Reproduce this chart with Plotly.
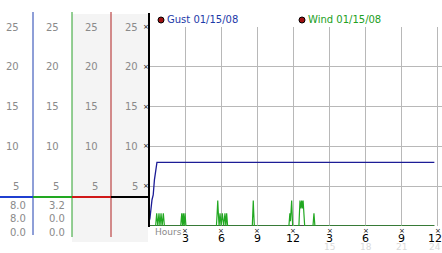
import plotly.graph_objects as go

# ---------------- data ----------------
gust_hours = [0.0, 0.08, 0.25, 0.35, 0.45, 0.66, 23.7]
gust_mph = [0.5, 1.0, 3.3, 3.9, 5.8, 8.0, 8.0]

wind_hours = [0.0, 0.55, 0.64, 0.73, 0.83, 0.91, 1.0, 1.09, 1.19, 1.28,
              2.63, 2.72, 2.79, 2.85, 2.92, 2.99, 3.07,
              5.6, 5.66, 5.71, 5.76, 5.82, 5.9, 5.99, 6.09, 6.2, 6.31, 6.38, 6.45, 6.53,
              8.58, 8.62, 8.66, 8.7, 8.75,
              11.62, 11.7, 11.75, 11.85, 11.93,
              12.45, 12.54, 12.61, 12.68, 12.74, 12.8, 12.87, 12.93,
              13.62, 13.7, 13.78, 23.7]
wind_mph = [0, 0, 1.6, 0, 1.6, 0, 1.6, 0, 1.6, 0,
            0, 1.6, 0, 1.6, 0, 1.6, 0,
            0, 1.6, 3.2, 1.6, 0, 1.6, 0, 1.6, 0, 1.6, 0, 1.6, 0,
            0, 1.6, 3.2, 1.6, 0,
            0, 1.6, 0.6, 3.2, 0,
            0, 3.2, 2.2, 3.2, 2.2, 3.2, 1.2, 0,
            0, 1.6, 0, 0]

y_ticks = [5, 10, 15, 20, 25]
x_ticks = [3, 6, 9, 12, 15, 18, 21, 24]
x_tick_text = ["3", "6", "9", "12", "3", "6", "9", "12"]
x_faint_ticks = [15, 18, 21, 24]
x_faint_text = ["15", "18", "21", "24"]

panel_rows = ["8.0", "8.0", "0.0"]       # column 1 readings
panel_rows2 = ["3.2", "0.0", "0.0"]      # column 2 readings

legend_names = ["Gust 01/15/08", "Wind 01/15/08"]

# ---------------- layout helpers ----------------
W, H = 442, 253
def px(x):
    return x / W
def py(y):
    return 1 - y / H

FONT = "DejaVu Sans"
GRAY = "#8a8a8a"
BLUE = "#1c1c96"
GREEN = "#22a822"

fig = go.Figure()
fig.add_trace(go.Scatter(x=wind_hours, y=wind_mph, mode="lines",
                         line=dict(color=GREEN, width=1.2), hoverinfo="skip",
                         showlegend=False))
fig.add_trace(go.Scatter(x=gust_hours, y=gust_mph, mode="lines",
                         line=dict(color=BLUE, width=1.3), hoverinfo="skip",
                         showlegend=False))

shapes = []
# gray panel background
shapes.append(dict(type="rect", xref="paper", yref="paper", layer="below",
                   x0=px(72), x1=px(148), y0=py(242), y1=py(14),
                   fillcolor="#f4f4f4", line=dict(width=0)))
# column separators
for xx, col, ybot in [(33, "#1f3fb0", 235), (72, "#2aa02a", 237), (111, "#b02020", 237)]:
    shapes.append(dict(type="line", xref="paper", yref="paper",
                       x0=px(xx), x1=px(xx), y0=py(12), y1=py(ybot),
                       line=dict(color=col, width=1)))
# coloured horizontal bar across panel
for x0, x1, col in [(0, 33, "#1f3fd0"), (33, 72, "#22a822"), (72, 111, "#d01818"), (111, 149, "#000000")]:
    shapes.append(dict(type="line", xref="paper", yref="paper",
                       x0=px(x0), x1=px(x1), y0=py(197), y1=py(197),
                       line=dict(color=col, width=2)))
# main black y axis
shapes.append(dict(type="line", xref="paper", yref="paper",
                   x0=px(149), x1=px(149), y0=py(13), y1=py(227),
                   line=dict(color="black", width=2)))
# x axis baseline
shapes.append(dict(type="line", xref="x", yref="y", x0=0, x1=23.7, y0=0, y1=0,
                   line=dict(color="#111111", width=1.5), layer="below"))
# legend dots
for cx in [161, 302]:
    shapes.append(dict(type="circle", xref="paper", yref="paper",
                       x0=px(cx - 3), x1=px(cx + 3), y0=py(23), y1=py(17),
                       fillcolor="#a01010", line=dict(color="black", width=1)))

ann = []
# left panel tick labels
for v in y_ticks:
    for xr in [20, 60, 99, 139]:
        ann.append(dict(xref="paper", yref="y", x=px(xr + 1), y=v, text=str(v),
                        xanchor="right", yanchor="middle", showarrow=False,
                        font=dict(family=FONT, size=10, color=GRAY)))
    ann.append(dict(xref="paper", yref="y", x=px(146), y=v, text="×",
                    xanchor="center", yanchor="middle", showarrow=False,
                    font=dict(family=FONT, size=7, color="black")))
# panel readings
for i, (a, b) in enumerate(zip(panel_rows, panel_rows2)):
    yy = 205 + i * 13.5
    ann.append(dict(xref="paper", yref="paper", x=px(28), y=py(yy), text=a,
                    xanchor="right", yanchor="middle", showarrow=False,
                    font=dict(family=FONT, size=10, color=GRAY)))
    ann.append(dict(xref="paper", yref="paper", x=px(67), y=py(yy), text=b,
                    xanchor="right", yanchor="middle", showarrow=False,
                    font=dict(family=FONT, size=10, color=GRAY)))
# x tick labels
for i, (v, t) in enumerate(zip(x_ticks, x_tick_text)):
    shift = -3 if i == len(x_ticks) - 1 else 0
    ann.append(dict(xref="x", yref="paper", x=v, y=py(230.5), text="×",
                    xanchor="center", yanchor="middle", showarrow=False,
                    font=dict(family=FONT, size=7, color="black")))
    ann.append(dict(xref="x", yref="paper", x=v, y=py(238.5), text=t, xshift=shift,
                    xanchor="center", yanchor="middle", showarrow=False,
                    font=dict(family=FONT, size=11, color="black")))
for i, (v, t) in enumerate(zip(x_faint_ticks, x_faint_text)):
    shift = -3 if i == len(x_faint_ticks) - 1 else 0
    ann.append(dict(xref="x", yref="paper", x=v, y=py(247), text=t, xshift=shift,
                    xanchor="center", yanchor="middle", showarrow=False,
                    font=dict(family=FONT, size=9, color="#dadada")))
ann.append(dict(xref="paper", yref="paper", x=px(153), y=py(232), text="Hours",
                xanchor="left", yanchor="middle", showarrow=False,
                font=dict(family=FONT, size=9, color=GRAY)))
# legend text
ann.append(dict(xref="paper", yref="paper", x=px(165), y=py(20), text=legend_names[0],
                xanchor="left", yanchor="middle", showarrow=False,
                font=dict(family=FONT, size=10, color="#1c3aa8")))
ann.append(dict(xref="paper", yref="paper", x=px(306), y=py(20), text=legend_names[1],
                xanchor="left", yanchor="middle", showarrow=False,
                font=dict(family=FONT, size=10, color="#22a022")))

fig.update_layout(
    width=W, height=H, margin=dict(l=0, r=0, t=0, b=0),
    paper_bgcolor="white", plot_bgcolor="white",
    shapes=shapes, annotations=ann, showlegend=False,
    xaxis=dict(domain=[px(149), 1], range=[0, 293 / 12.04], tickvals=x_ticks,
               showticklabels=False, showgrid=True, gridcolor="#b8b8b8", gridwidth=1,
               zeroline=False, showline=False, ticks=""),
    yaxis=dict(domain=[py(226), py(27)], range=[0, 25], tickvals=y_ticks,
               showticklabels=False, showgrid=True, gridcolor="#b8b8b8", gridwidth=1,
               zeroline=False, showline=False, ticks=""),
)

fig.write_html("out.html")
